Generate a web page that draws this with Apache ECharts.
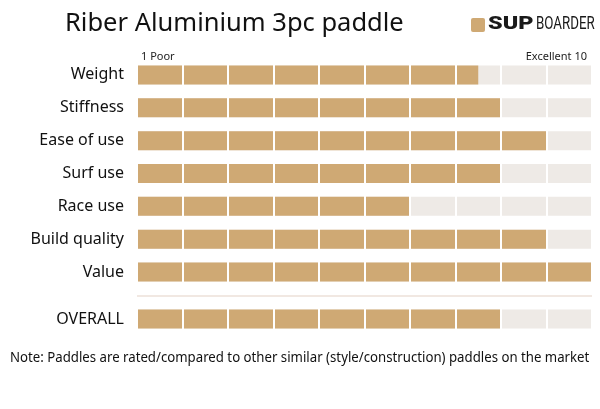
<!DOCTYPE html>
<html>
<head>
<meta charset="utf-8">
<script src="https://cdn.jsdelivr.net/npm/echarts@6/dist/echarts.min.js"></script>
<style>
  html, body { margin: 0; padding: 0; background: #fff; }
  #chart { width: 600px; height: 409px; }
</style>
</head>
<body>
<div id="chart"></div>
<script>
// ratings data
var categories = ["Weight", "Stiffness", "Ease of use", "Surf use", "Race use", "Build quality", "Value"];
var scores = [7.5, 8, 9, 8, 6, 9, 10];
var overallCategory = ["OVERALL"];
var overallScore = [8];
var scaleLabels = ["1 Poor", "Excellent 10"];

var gold = "#cfa974";
var track = "#eeeae6";
var font = "Noto Sans";

var chart = echarts.init(document.getElementById("chart"));

function xAxisFor(gridIndex) {
  return {
    type: "value",
    gridIndex: gridIndex,
    min: 0,
    max: 10,
    interval: 1,
    z: 5,
    axisLine: { show: false },
    axisTick: { show: false },
    axisLabel: { show: false },
    splitLine: { show: true, lineStyle: { color: "#ffffff", width: 2 } }
  };
}

function yAxisFor(gridIndex, data) {
  return {
    type: "category",
    gridIndex: gridIndex,
    data: data,
    inverse: true,
    axisLine: { show: false },
    axisTick: { show: false },
    axisLabel: { color: "#111", fontSize: 16, fontFamily: font, margin: 13 }
  };
}

function barSeries(index, data) {
  return {
    type: "bar",
    xAxisIndex: index,
    yAxisIndex: index,
    data: data,
    barWidth: 19,
    showBackground: true,
    backgroundStyle: { color: track },
    itemStyle: { color: gold },
    silent: true
  };
}

var option = {
  animation: false,
  backgroundColor: "#ffffff",
  textStyle: { fontFamily: font },
  title: [
    {
      text: "Riber Aluminium 3pc paddle",
      left: 60,
      top: 6,
      textStyle: { fontSize: 25.5, fontWeight: "normal", color: "#111", fontFamily: font }
    },
    {
      text: scaleLabels[0],
      left: 136,
      top: 46,
      textStyle: { fontSize: 11, fontWeight: "normal", color: "#222", fontFamily: font }
    },
    {
      text: scaleLabels[1],
      right: 8,
      top: 46,
      textStyle: { fontSize: 11, fontWeight: "normal", color: "#222", fontFamily: font }
    }
  ],
  grid: [
    { left: 137, right: 8, top: 58.5, height: 230 },
    { left: 137, right: 8, top: 302.5, height: 33 }
  ],
  xAxis: [xAxisFor(0), xAxisFor(1)],
  yAxis: [yAxisFor(0, categories), yAxisFor(1, overallCategory)],
  series: [barSeries(0, scores), barSeries(1, overallScore)],
  graphic: [
    {
      type: "line",
      shape: { x1: 137, y1: 296, x2: 592, y2: 296 },
      style: { stroke: "#f1e8e2", lineWidth: 2 }
    },
    {
      type: "text",
      x: 10,
      y: 351,
      scaleX: 0.944,
      style: {
        text: "Note: Paddles are rated/compared to other similar (style/construction) paddles on the market",
        fontSize: 14,
        fontFamily: font,
        fill: "#111"
      }
    },
    // logo
    {
      type: "rect",
      shape: { x: 471, y: 18, width: 14, height: 14, r: 2 },
      style: { fill: gold }
    },
    {
      type: "text",
      x: 488,
      y: 15,
      scaleX: 1.3,
      style: {
        text: "SUP",
        fontSize: 18,
        fontWeight: 900,
        fontFamily: "Roboto",
        fill: "#1a1a1a"
      }
    },
    {
      type: "text",
      x: 536,
      y: 15,
      scaleX: 0.74,
      style: {
        text: "BOARDER",
        fontSize: 18,
        fontWeight: "normal",
        fontFamily: "Roboto",
        fill: "#1a1a1a"
      }
    }
  ]
};

chart.setOption(option);
</script>
</body>
</html>
